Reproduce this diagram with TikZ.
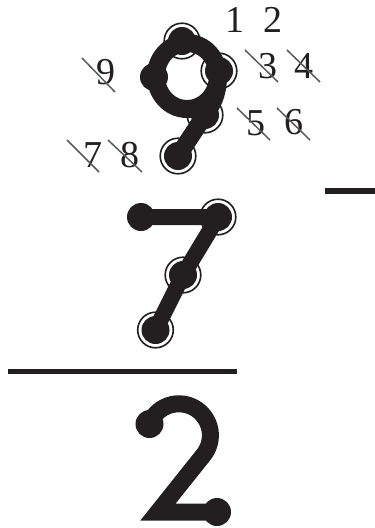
\documentclass[tikz,border=0pt]{standalone}
\usepackage{fontspec}
\setmainfont{Liberation Serif}
\definecolor{ink}{HTML}{231F20}
\definecolor{strk}{HTML}{58595B}
\begin{document}
\begin{tikzpicture}[x=1pt,y=-1pt,
  lbl/.style={inner sep=0pt, text=ink, font=\fontsize{38}{38}\selectfont},
  strike/.style={draw=strk, line width=1.5pt},
  ring/.style={draw=ink, fill=white, line width=1.6pt},
  dotc/.style={fill=ink},
  digitstroke/.style={draw=ink, line join=round},
  rule/.style={draw=ink}
]
\useasboundingbox (0,0) rectangle (375,528);

% ---------- coordinates ----------
% digit 9
\coordinate (c9) at (187,76);
\coordinate (n9top) at (182,41);
\coordinate (n9r) at (219,71);
\coordinate (n9l) at (154,77);
\coordinate (n9j) at (218,78);
\coordinate (n9br) at (205,115);
\coordinate (n9end) at (178,156);
% digit 7
\coordinate (n7l) at (141,217);
\coordinate (n7tr) at (218,217);
\coordinate (n7m) at (183,275);
\coordinate (n7b) at (155.5,330);
% digit 2
\coordinate (n2l) at (149.5,424);
\coordinate (n2c) at (158,512);
\coordinate (n2r) at (217,512);
% rules
\coordinate (dashL) at (325,190.8);
\coordinate (dashR) at (375,190.8);
\coordinate (barL) at (8.3,371.7);
\coordinate (barR) at (237.3,371.7);

% ---------- rings (under strokes) ----------
\foreach \p in {n9top,n9r,n9br,n9end,n7tr,n7m,n7b}
  \path[ring] (\p) circle[radius=17.8];

% ---------- strokes ----------
\path[digitstroke, line width=18pt] (c9) ellipse[x radius=31, y radius=33];
\path[digitstroke, line width=17.5pt] (n9j) .. controls (218,96) and (212,104) .. (n9br) -- (n9end);
\path[digitstroke, line width=16pt] (n7l) -- (n7tr) -- (n7m) -- (n7b);
\path[digitstroke, line width=17pt, line join=miter]
  (n2l) arc[start angle=-159, end angle=38.7, radius=31.5] -- (n2c) -- (n2r);

% ---------- dots ----------
\foreach \p in {n9top,n9r,n9l,n9br,n9end,n7l,n7tr,n7m,n7b,n2l,n2r}
  \path[dotc] (\p) circle[radius=14];

% ---------- rules ----------
\path[rule, line width=5.5pt] (dashL) -- (dashR);
\path[rule, line width=4.5pt] (barL) -- (barR);

% ---------- labels ----------
\node[lbl] (l1) at (234.5,19.5) {1};
\node[lbl] (l2) at (273,19.5) {2};
\node[lbl] (l3) at (267.5,66) {3};
\node[lbl] (l4) at (303.5,66) {4};
\node[lbl] (l9) at (106,72.5) {9};
\node[lbl] (l5) at (256,123) {5};
\node[lbl] (l6) at (294,122.5) {6};
\node[lbl] (l7) at (92.5,155.5) {7};
\node[lbl] (l8) at (130,155.5) {8};

% ---------- strike-throughs ----------
\draw[strike] (l3.center) ++(-22.5,-16) -- ++(33,32);
\draw[strike] (l4.center) ++(-16.5,-16) -- ++(33,32);
\draw[strike] (l9.center) ++(-24,-14.5) -- ++(33,34);
\draw[strike] (l5.center) ++(-19,-15) -- ++(33,32);
\draw[strike] (l6.center) ++(-17,-14.5) -- ++(33,32);
\draw[strike] (l7.center) ++(-25.5,-15.5) -- ++(32,32);
\draw[strike] (l8.center) ++(-22,-15.5) -- ++(34,32);
\end{tikzpicture}
\end{document}
